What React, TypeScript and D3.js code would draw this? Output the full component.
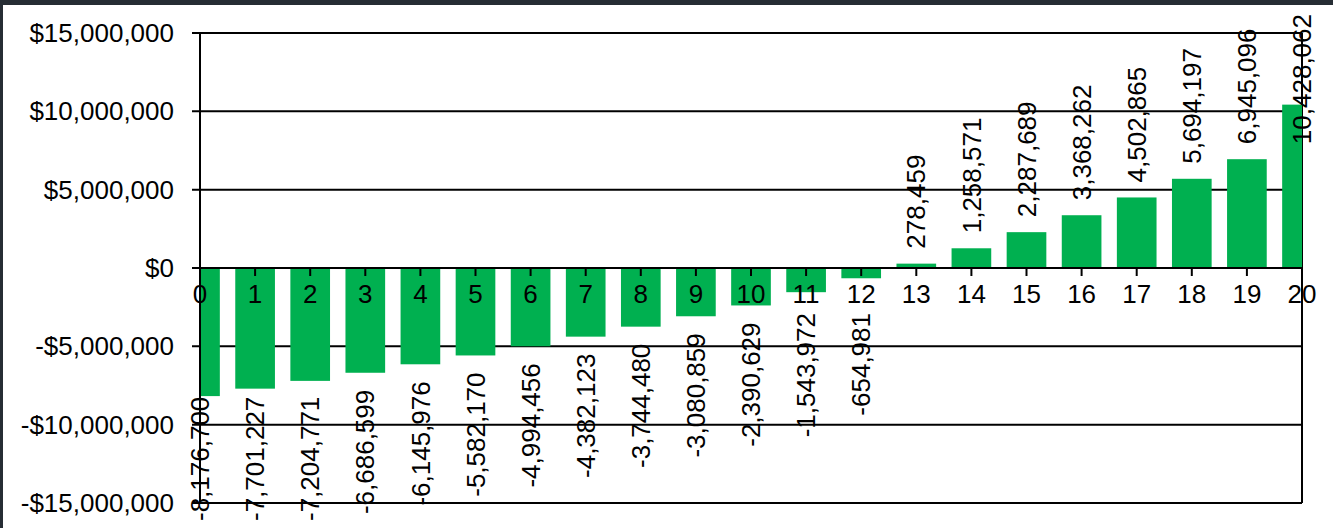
import { useEffect, useRef } from 'react';
import * as d3 from 'd3';

const years = d3.range(0, 21);
const cashFlow = [
  -8176700, -7701227, -7204771, -6686599, -6145976, -5582170, -4994456,
  -4382123, -3744480, -3080859, -2390629, -1543972, -654981, 278459,
  1258571, 2287689, 3368262, 4502865, 5694197, 6945096, 10428062,
];
const yTicks = [-15000000, -10000000, -5000000, 0, 5000000, 10000000, 15000000];

const WIDTH = 1333;
const HEIGHT = 528;
const FONT = '"Liberation Sans", Arial, sans-serif';
const SIZE = '26px';

export default function App() {
  const svgRef = useRef<SVGSVGElement>(null);

  useEffect(() => {
    if (!svgRef.current) return;
    const svg = d3.select(svgRef.current);
    svg.selectAll('*').remove();

    const left = 200;
    const right = 1302;
    const top = 33;
    const bottom = 503;

    const x = d3.scaleLinear().domain([0, 20]).range([left, right]);
    const y = d3.scaleLinear().domain([-15000000, 15000000]).range([bottom, top]);
    const barW = (x(1) - x(0)) * 0.72;
    const comma = d3.format(',');
    const fmt = (v: number) => (v < 0 ? '-' + comma(-v) : comma(v));
    const money = (v: number) => (v < 0 ? '-$' + comma(-v) : '$' + comma(v));

    svg.append('rect').attr('width', WIDTH).attr('height', HEIGHT).attr('fill', '#fff');

    // frame
    svg.append('rect').attr('x', 0).attr('y', 0).attr('width', WIDTH).attr('height', 5).attr('fill', '#262d34');
    svg.append('rect').attr('x', 0).attr('y', 0).attr('width', 3).attr('height', HEIGHT).attr('fill', '#262d34');

    const defs = svg.append('defs');
    defs.append('clipPath').attr('id', 'plot')
      .append('rect').attr('x', left).attr('y', top).attr('width', right - left).attr('height', bottom - top);

    // gridlines
    svg.append('g').selectAll('line').data(yTicks).enter().append('line')
      .attr('x1', left - 8).attr('x2', right)
      .attr('y1', d => y(d)).attr('y2', d => y(d))
      .attr('stroke', '#000').attr('stroke-width', 2);

    // right border
    svg.append('line').attr('x1', right).attr('x2', right).attr('y1', top).attr('y2', bottom)
      .attr('stroke', '#000').attr('stroke-width', 2);

    // bars
    svg.append('g').attr('clip-path', 'url(#plot)')
      .selectAll('rect').data(cashFlow).enter().append('rect')
      .attr('x', (_, i) => x(years[i]) - barW / 2)
      .attr('width', barW)
      .attr('y', d => y(Math.max(0, d)))
      .attr('height', d => Math.abs(y(d) - y(0)))
      .attr('fill', '#00b050');

    // y axis
    svg.append('line').attr('x1', left).attr('x2', left).attr('y1', top).attr('y2', bottom)
      .attr('stroke', '#000').attr('stroke-width', 2);
    svg.append('g').selectAll('text').data(yTicks).enter().append('text')
      .attr('x', 174).attr('y', d => y(d)).attr('dy', '0.35em')
      .attr('text-anchor', 'end')
      .style('font-family', FONT).style('font-size', SIZE).attr('fill', '#000')
      .text(d => money(d));

    // x axis at zero
    svg.append('line').attr('x1', left).attr('x2', right).attr('y1', y(0)).attr('y2', y(0))
      .attr('stroke', '#000').attr('stroke-width', 2);
    svg.append('g').selectAll('line').data(years).enter().append('line')
      .attr('x1', d => x(d)).attr('x2', d => x(d))
      .attr('y1', y(0)).attr('y2', y(0) + 8)
      .attr('stroke', '#000').attr('stroke-width', 2);
    svg.append('g').selectAll('text').data(years).enter().append('text')
      .attr('x', d => x(d)).attr('y', y(0) + 35)
      .attr('text-anchor', 'middle')
      .style('font-family', FONT).style('font-size', SIZE).attr('fill', '#000')
      .text(d => String(d));

    // data labels, rotated
    const labels = svg.append('g');
    cashFlow.forEach((v, i) => {
      const t = labels.append('text')
        .style('font-family', FONT).style('font-size', SIZE).attr('fill', '#000')
        .attr('dy', '0.35em')
        .text(fmt(v));
      const len = (t.node() as SVGTextElement).getComputedTextLength();
      const cx = x(years[i]);
      let start: number;
      if (v >= 0) {
        start = y(v) - 15;
        if (start - len < 14) start = 14 + len;
      } else {
        const end = Math.max(y(v) + 17, 313);
        start = end + len;
        if (start > 521) start = 521;
      }
      t.attr('transform', `translate(${cx},${start}) rotate(-90)`);
    });
  }, []);

  return (
    <div>
      <style>{'body{margin:0}'}</style>
      <svg ref={svgRef} width={WIDTH} height={HEIGHT} style={{ display: 'block' }} />
    </div>
  );
}
